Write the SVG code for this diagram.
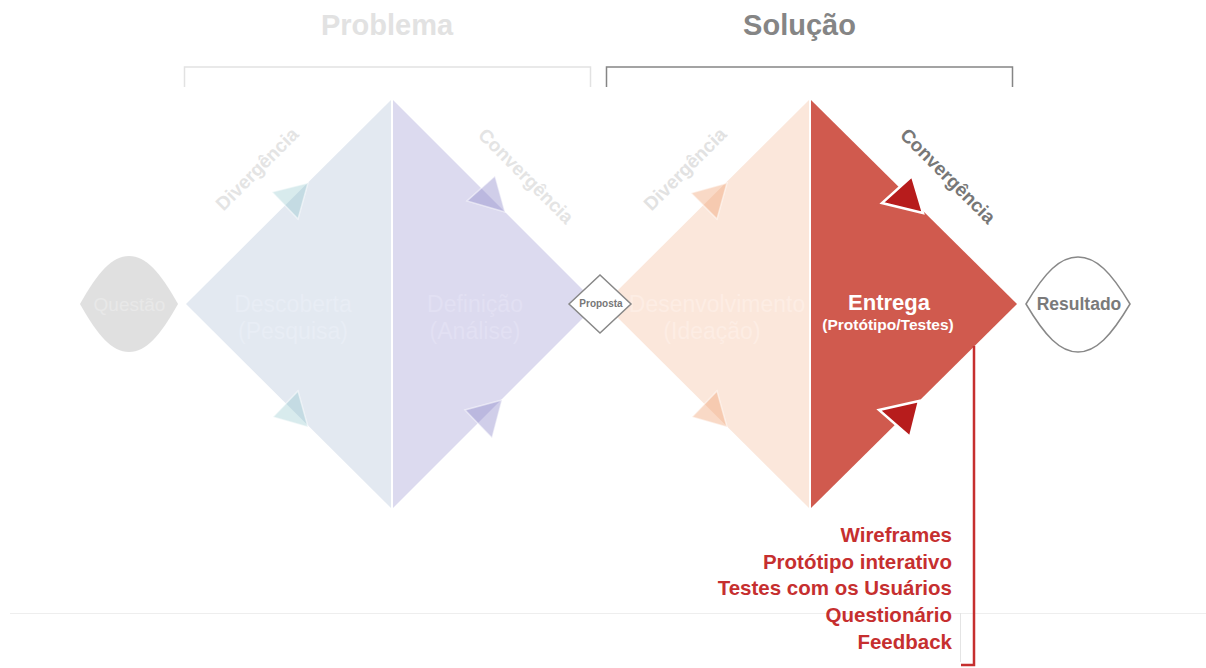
<svg xmlns="http://www.w3.org/2000/svg" width="1206" height="668" viewBox="0 0 1206 668">
<style>
text{font-family:"Liberation Sans",Arial,sans-serif;}
.h{font-size:29px;font-weight:bold;text-anchor:middle;}
.diag{font-size:19px;font-weight:bold;text-anchor:middle;dominant-baseline:central;}
.inner{font-size:23px;text-anchor:middle;}
.list{font-size:20.5px;font-weight:bold;fill:#c62f2f;text-anchor:end;}
.tri-f{stroke:#ffffff;stroke-opacity:0.5;stroke-width:1.5;stroke-linejoin:miter;}
</style>
<rect x="0" y="0" width="1206" height="668" fill="#ffffff"/>
<!-- background rule -->
<g id="rule">
<line x1="10" y1="613.5" x2="1206" y2="613.5" stroke="#eeeeee" stroke-width="1"/>
<rect x="822" y="614" width="138" height="54" fill="#ffffff"/>
<line x1="960.5" y1="613" x2="960.5" y2="662" stroke="#e4e4e4" stroke-width="1"/>
</g>
<!-- headings and brackets -->
<g id="problema">
<text class="h" x="387" y="35" fill="#e2e2e2">Problema</text>
<path d="M184.5,87 V67 H590.5 V87" fill="none" stroke="#e2e2e2" stroke-width="1.5"/>
</g>
<g id="solucao">
<text class="h" x="799.5" y="35" fill="#858585">Solução</text>
<path d="M606.5,87 V67 H1012.5 V87" fill="none" stroke="#858585" stroke-width="1.5"/>
</g>
<!-- Questão -->
<g id="questao">
<path d="M80,304 C98,272 112,256 129,256 C146,256 160,272 178,304 C160,336 146,352 129,352 C112,352 98,336 80,304 Z" fill="#e0e0e0"/>
<text x="129.5" y="311" font-size="19" text-anchor="middle" fill="#e8e8e8">Questão</text>
</g>
<!-- Diamond 1 left: Descoberta -->
<g id="descoberta">
<polygon points="186,304 391,100 391,508" fill="#e3e9f1"/>
<text class="inner" x="293" y="312" fill="#e8edf5">Descoberta</text>
<text class="inner" x="293" y="339" fill="#e8edf5">(Pesquisa)</text>
<polygon class="tri-f" points="308,183 272,192 298,219" fill="#7fbcc4" fill-opacity="0.3"/>
<polygon class="tri-f" points="308,427 273,417 298,391" fill="#7fbcc4" fill-opacity="0.3"/>
<text class="diag" transform="translate(257,169) rotate(-45)" fill="#e4e4e4">Divergência</text>
</g>
<!-- Diamond 1 right: Definição -->
<g id="definicao">
<polygon points="393,100 597,304 393,508" fill="#dcdaef"/>
<text class="inner" x="475" y="312" fill="#e2e0f3">Definição</text>
<text class="inner" x="475" y="339" fill="#e2e0f3">(Análise)</text>
<polygon class="tri-f" points="505,212 467,201 495,176" fill="#8a85c9" fill-opacity="0.4"/>
<polygon class="tri-f" points="502,400 465,410 492,438" fill="#8a85c9" fill-opacity="0.4"/>
<text class="diag" transform="translate(526,176) rotate(45)" fill="#e4e4e4">Convergência</text>
</g>
<!-- Diamond 2 left: Desenvolvimento -->
<g id="desenvolvimento">
<polygon points="604,304 809,100 809,508" fill="#fbe7db"/>
<text class="inner" x="717" y="312" fill="#fdede4">Desenvolvimento</text>
<text class="inner" x="712" y="339" fill="#fdede4">(Ideação)</text>
<polygon class="tri-f" points="727,183 691,193 717,219" fill="#f0a070" fill-opacity="0.4"/>
<polygon class="tri-f" points="727,427 692,417 717,391" fill="#f0a070" fill-opacity="0.4"/>
<text class="diag" transform="translate(685,169) rotate(-45)" fill="#e2e2e2">Divergência</text>
</g>
<!-- Diamond 2 right: Entrega -->
<g id="entrega">
<polygon points="811,100 1017,304 811,508" fill="#d05a4e"/>
<text x="889" y="310" font-size="22" font-weight="bold" text-anchor="middle" fill="#ffffff">Entrega</text>
<text x="888" y="330" font-size="15.5" font-weight="bold" text-anchor="middle" fill="#ffffff">(Protótipo/Testes)</text>
<polygon points="923,213 882,203 912,176" fill="#b71c1c" stroke="#ffffff" stroke-width="2.5"/>
<polygon points="919,401 879,410 910,437" fill="#b71c1c" stroke="#ffffff" stroke-width="2.5"/>
<text class="diag" transform="translate(948,176) rotate(45)" fill="#777777">Convergência</text>
</g>
<!-- Proposta -->
<g id="proposta">
<polygon points="569,304 600,275 631,304 600,333" fill="#ffffff" stroke="#888888" stroke-width="1.5"/>
<text x="601" y="307" font-size="10" font-weight="bold" text-anchor="middle" fill="#777777">Proposta</text>
</g>
<!-- Resultado -->
<g id="resultado">
<path d="M1026,304 C1045,272 1060,257 1078,257 C1096,257 1111,272 1130,304 C1111,336 1096,352 1078,352 C1060,352 1045,336 1026,304 Z" fill="#ffffff" stroke="#888888" stroke-width="1.5"/>
<text x="1079" y="310" font-size="17.5" font-weight="bold" text-anchor="middle" fill="#7a7a7a">Resultado</text>
</g>
<!-- connectors -->
<g id="connectors">
<path d="M974,346 V665 H961" fill="none" stroke="#c62f2f" stroke-width="2.5"/>
</g>
<!-- list -->
<g id="lista">
<text class="list" x="952" y="542">Wireframes</text>
<text class="list" x="952" y="569">Protótipo interativo</text>
<text class="list" x="952" y="595">Testes com os Usuários</text>
<text class="list" x="952" y="622">Questionário</text>
<text class="list" x="952" y="649">Feedback</text>
</g>
</svg>
